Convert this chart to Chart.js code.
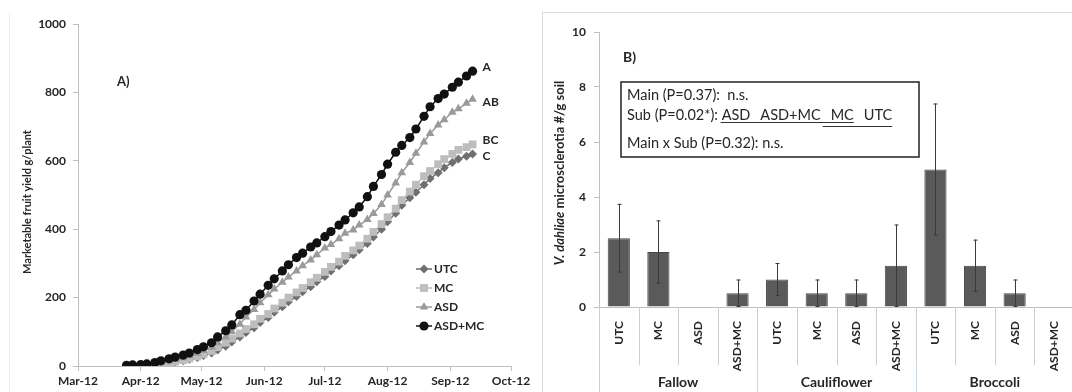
<!DOCTYPE html>
<html>
<head>
<meta charset="utf-8">
<script src="https://cdn.jsdelivr.net/npm/chart.js@4.4.0/dist/chart.umd.min.js"></script>
<style>
  html, body { margin: 0; padding: 0; background: #fff; overflow: hidden; }
  body { width: 1072px; height: 392px; position: relative; }
  #yield { position: absolute; left: 0; top: 0; }
  #scler { position: absolute; left: 540px; top: 0; }
</style>
</head>
<body>
<canvas id="yield" width="540" height="392"></canvas>
<canvas id="scler" width="540" height="392"></canvas>
<script>
// panel A: cumulative yield, x = days after 1 Mar 2012
const harvestDays = [24, 27, 31, 34, 38, 41, 45, 48, 52, 55, 59, 62, 66, 69, 73, 76, 80, 83, 87, 90,
  94, 97, 101, 104, 108, 111, 115, 118, 122, 125, 129, 132, 136, 139, 143, 146, 150, 153, 157, 160,
  164, 167, 171, 174, 178, 181, 185, 188, 192, 195];
const utc = [0, 1, 2, 3, 4, 6, 9, 12, 15, 20, 25, 31, 38, 47, 58, 70, 85, 98, 112, 127,
  142, 157, 173, 188, 203, 217, 232, 246, 262, 278, 293, 308, 325, 340, 358, 377, 400, 422, 447, 470,
  492, 508, 530, 548, 565, 580, 595, 605, 613, 620];
const mc = [0, 1, 2, 3, 5, 7, 10, 13, 17, 22, 28, 35, 44, 55, 68, 80, 95, 108, 122, 138,
  152, 168, 185, 200, 215, 228, 245, 258, 275, 290, 305, 322, 338, 352, 372, 392, 415, 435, 460, 485,
  510, 530, 555, 570, 590, 605, 620, 632, 640, 648];
const asd = [1, 2, 3, 5, 8, 11, 15, 19, 24, 30, 37, 45, 55, 68, 85, 100, 122, 143, 165, 185,
  208, 225, 245, 260, 278, 293, 310, 325, 345, 355, 372, 388, 398, 412, 428, 446, 472, 500, 535, 565,
  595, 622, 655, 680, 705, 720, 742, 752, 768, 780];
const asdMc = [2, 3, 4, 6, 10, 15, 21, 26, 32, 38, 48, 56, 68, 85, 103, 120, 150, 163, 190, 210,
  236, 255, 278, 296, 317, 330, 348, 360, 378, 393, 412, 427, 448, 465, 495, 525, 560, 590, 625, 645,
  668, 693, 730, 758, 782, 795, 815, 830, 848, 862];
const monthDays = [0, 31, 61, 92, 122, 153, 184, 214];
const monthLabels = ["Mar-12", "Apr-12", "May-12", "Jun-12", "Jul-12", "Aug-12", "Sep-12", "Oct-12"];
const seriesNames = ["UTC", "MC", "ASD", "ASD+MC"];
const meanLetters = ["C", "BC", "AB", "A"];

// panel B: microsclerotia per g soil
const crops = ["Fallow", "Cauliflower", "Broccoli"];
const treatments = ["UTC", "MC", "ASD", "ASD+MC"];
const sclerotia = [2.5, 2.0, 0, 0.5, 1.0, 0.5, 0.5, 1.5, 5.0, 1.5, 0.5, 0];
const sclerotiaErr = [1.25, 1.15, 0, 0.5, 0.6, 0.5, 0.5, 1.5, 2.4, 0.95, 0.5, 0];
const statMain = "Main (P=0.37):  n.s.";
const statSub = "Sub (P=0.02*): ";
const subRanking = ["ASD", "ASD+MC", "MC", "UTC"];
const statInter = "Main x Sub (P=0.32): n.s.";

const FONT = "Lato, 'Open Sans', sans-serif";
const INK = "#262626";
const AXIS = "#bfbfbf";

const styles = [
  { color: "#6f6f6f", point: "rectRot", r: 4.5 },
  { color: "#bdbdbd", point: "rect", r: 5.5 },
  { color: "#9a9a9a", point: "triangle", r: 5 },
  { color: "#111111", point: "circle", r: 4.6 },
];
const seriesData = [utc, mc, asd, asdMc];

const drawMarker = (ctx, type, x, y, r, color) => {
  ctx.save();
  ctx.fillStyle = color;
  ctx.beginPath();
  if (type === "circle") ctx.arc(x, y, r, 0, Math.PI * 2);
  else if (type === "rect") { const s = r * Math.SQRT1_2; ctx.rect(x - s, y - s, 2 * s, 2 * s); }
  else if (type === "rectRot") { ctx.moveTo(x, y - r); ctx.lineTo(x + r, y); ctx.lineTo(x, y + r); ctx.lineTo(x - r, y); ctx.closePath(); }
  else if (type === "triangle") {
    ctx.moveTo(x, y - r); ctx.lineTo(x + r * 0.866, y + r * 0.5); ctx.lineTo(x - r * 0.866, y + r * 0.5); ctx.closePath();
  }
  ctx.fill();
  ctx.restore();
};

const yieldDecor = {
  id: "yieldDecor",
  afterDraw(chart) {
    const { ctx, scales: { x, y } } = chart;
    ctx.save();
    // faint chart-area border
    ctx.strokeStyle = "#ececec";
    ctx.lineWidth = 1;
    ctx.beginPath();
    ctx.moveTo(9.5, 13);
    ctx.lineTo(9.5, 392);
    ctx.stroke();

    ctx.fillStyle = INK;
    ctx.font = "bold 13px " + FONT;
    ctx.textBaseline = "middle";
    ctx.fillText("A)", 117, 82);

    // y title
    ctx.save();
    ctx.translate(27, 202);
    ctx.rotate(-Math.PI / 2);
    ctx.textAlign = "center";
    ctx.font = "bold 11px " + FONT;
    ctx.fillText("Marketable fruit yield g/plant", 0, 0);
    ctx.restore();

    // letters at the end of each curve
    const nudge = [2, -4, 3, -4];
    const last = harvestDays.length - 1;
    ctx.font = "bold 12px " + FONT;
    ctx.textAlign = "left";
    seriesData.forEach((arr, i) => {
      const px = x.getPixelForValue(harvestDays[last]) + 10;
      const py = y.getPixelForValue(arr[last]) + nudge[i];
      ctx.fillText(meanLetters[i], px, py);
    });

    // legend
    seriesNames.forEach((name, i) => {
      const ly = 269 + i * 19;
      ctx.strokeStyle = styles[i].color;
      ctx.lineWidth = 1.5;
      ctx.beginPath();
      ctx.moveTo(416, ly);
      ctx.lineTo(432, ly);
      ctx.stroke();
      drawMarker(ctx, styles[i].point, 424, ly, styles[i].r, styles[i].color);
      ctx.fillStyle = INK;
      ctx.fillText(name, 434, ly);
    });
    ctx.restore();
  },
};

new Chart(document.getElementById("yield"), {
  type: "line",
  data: {
    datasets: seriesData.map((arr, i) => ({
      label: seriesNames[i],
      data: harvestDays.map((d, k) => ({ x: d, y: arr[k] })),
      borderColor: styles[i].color,
      backgroundColor: styles[i].color,
      pointBackgroundColor: styles[i].color,
      pointBorderColor: styles[i].color,
      pointBorderWidth: 0,
      pointStyle: styles[i].point,
      pointRadius: styles[i].r,
      borderWidth: 1.5,
      tension: 0,
      order: 3 - i,
    })),
  },
  options: {
    responsive: false,
    animation: false,
    events: [],
    layout: { padding: { top: 24, right: 29, bottom: 0, left: 0 } },
    plugins: { legend: { display: false }, tooltip: { enabled: false } },
    scales: {
      x: {
        type: "linear",
        min: 0,
        max: 214,
        afterBuildTicks: (s) => { s.ticks = monthDays.map((v) => ({ value: v })); },
        afterFit: (s) => { s.height = 26; },
        grid: { drawOnChartArea: false, tickLength: 5, color: AXIS },
        border: { color: AXIS },
        ticks: {
          autoSkip: false,
          maxRotation: 0,
          padding: 3,
          color: INK,
          font: { family: FONT, size: 12, weight: "bold" },
          callback: (v) => monthLabels[monthDays.indexOf(v)],
        },
      },
      y: {
        min: 0,
        max: 1000,
        afterFit: (s) => { s.width = 78; },
        grid: { drawOnChartArea: false, tickLength: 5, color: AXIS },
        border: { color: AXIS },
        ticks: {
          stepSize: 200,
          padding: 7,
          color: INK,
          font: { family: FONT, size: 12, weight: "bold" },
          callback: (v) => String(v),
        },
      },
    },
  },
  plugins: [yieldDecor],
});

const sclerDecor = {
  id: "sclerDecor",
  afterDatasetsDraw(chart) {
    const { ctx, scales: { y } } = chart;
    const bars = chart.getDatasetMeta(0).data;
    ctx.save();
    ctx.strokeStyle = "#3a3a3a";
    ctx.lineWidth = 1;
    bars.forEach((bar, i) => {
      const e = sclerotiaErr[i];
      if (!e) return;
      const top = y.getPixelForValue(sclerotia[i] + e);
      const bot = y.getPixelForValue(Math.max(sclerotia[i] - e, 0));
      const bx = Math.round(bar.x) + 0.5;
      ctx.beginPath();
      ctx.moveTo(bx, top);
      ctx.lineTo(bx, bot);
      ctx.moveTo(bx - 2, top + 0.5);
      ctx.lineTo(bx + 2, top + 0.5);
      ctx.moveTo(bx - 2, bot - 0.5);
      ctx.lineTo(bx + 2, bot - 0.5);
      ctx.stroke();
    });
    ctx.restore();
  },
  afterDraw(chart) {
    const { ctx, chartArea } = chart;
    ctx.save();
    // outer chart border
    ctx.strokeStyle = "#dcdcdc";
    ctx.lineWidth = 1;
    ctx.strokeRect(2.5, 12.5, 700, 500);

    // category separators below the axis
    const n = sclerotia.length;
    const catW = (chartArea.right - chartArea.left) / n;
    for (let i = 0; i <= n; i++) {
      const sx = Math.round(chartArea.left + i * catW) + 0.5;
      ctx.strokeStyle = "#cfcfcf";
      ctx.beginPath();
      ctx.moveTo(sx, chartArea.bottom);
      ctx.lineTo(sx, chartArea.bottom + 58);
      ctx.stroke();
      if (i % treatments.length === 0) {
        ctx.strokeStyle = i === 0 ? "#cfcfcf" : "#c9d7ea";
        ctx.beginPath();
        ctx.moveTo(sx, chartArea.bottom + 58);
        ctx.lineTo(sx, 392);
        ctx.stroke();
      }
    }

    // crop group labels
    ctx.fillStyle = INK;
    ctx.font = "bold 14px " + FONT;
    ctx.textAlign = "center";
    ctx.textBaseline = "middle";
    crops.forEach((c, g) => {
      const cx = chartArea.left + (g + 0.5) * treatments.length * catW;
      ctx.fillText(c, cx, 382);
    });

    // panel label
    ctx.textAlign = "left";
    ctx.font = "bold 14px " + FONT;
    ctx.fillText("B)", 83, 57);

    // y title with italic species name
    ctx.save();
    ctx.translate(20, 173);
    ctx.rotate(-Math.PI / 2);
    const italic = "italic bold 13px " + FONT;
    const plain = "bold 13px " + FONT;
    const p1 = "V. dahliae";
    const p2 = " microsclerotia #/g soil";
    ctx.font = italic;
    const w1 = ctx.measureText(p1).width;
    ctx.font = plain;
    const w2 = ctx.measureText(p2).width;
    const start = -(w1 + w2) / 2;
    ctx.font = italic;
    ctx.fillText(p1, start, 0);
    ctx.font = plain;
    ctx.fillText(p2, start + w1, 0);
    ctx.restore();

    // statistics box
    ctx.strokeStyle = "#222";
    ctx.lineWidth = 1.5;
    ctx.strokeRect(81, 82, 298, 75);
    ctx.font = "14.5px " + FONT;
    ctx.fillStyle = INK;
    const tx = 87;
    ctx.fillText(statMain, tx, 95);
    ctx.fillText(statSub, tx, 115);
    let wx = tx + ctx.measureText(statSub).width;
    const pos = subRanking.map((w) => {
      const ww = ctx.measureText(w).width;
      ctx.fillText(w, wx, 115);
      const p = { s: wx, e: wx + ww };
      wx += ww + 10;
      return p;
    });
    ctx.fillText(statInter, tx, 143);
    ctx.lineWidth = 1.2;
    ctx.strokeStyle = "#333";
    ctx.beginPath();
    ctx.moveTo(pos[0].s - 1, 122.5);
    ctx.lineTo(pos[2].e, 122.5);
    ctx.moveTo(pos[2].s - 8, 126.5);
    ctx.lineTo(pos[3].e, 126.5);
    ctx.stroke();
    ctx.restore();
  },
};

new Chart(document.getElementById("scler"), {
  type: "bar",
  data: {
    labels: crops.flatMap(() => treatments),
    datasets: [{
      data: sclerotia,
      backgroundColor: "#5a5a5a",
      borderColor: "#474747",
      borderWidth: 1,
      barPercentage: 0.56,
      categoryPercentage: 1,
    }],
  },
  options: {
    responsive: false,
    animation: false,
    events: [],
    layout: { padding: { top: 32, right: 6, bottom: 0, left: 0 } },
    plugins: { legend: { display: false }, tooltip: { enabled: false } },
    scales: {
      x: {
        afterFit: (s) => { s.height = 85; },
        grid: { display: false },
        border: { color: AXIS },
        ticks: {
          autoSkip: false,
          minRotation: 90,
          maxRotation: 90,
          padding: 6,
          color: INK,
          font: { family: FONT, size: 12, weight: "bold" },
        },
      },
      y: {
        min: 0,
        max: 10,
        afterFit: (s) => { s.width = 59; },
        grid: { drawOnChartArea: false, tickLength: 5, color: AXIS },
        border: { color: AXIS },
        ticks: { stepSize: 2, padding: 8, color: INK, font: { family: FONT, size: 12, weight: "bold" } },
      },
    },
  },
  plugins: [sclerDecor],
});
</script>
</body>
</html>
